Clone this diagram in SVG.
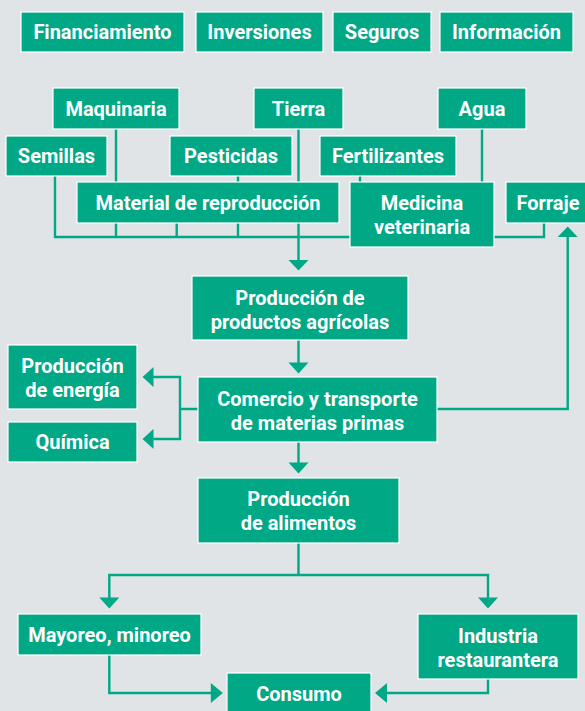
<svg xmlns="http://www.w3.org/2000/svg" width="585" height="711" viewBox="0 0 585 711">
<style>
.b{fill:#00a886;stroke:#ffffff;stroke-width:1.2}
.t{font-family:Roboto,"Liberation Sans",sans-serif;font-weight:bold;font-size:20px;fill:#ffffff;text-anchor:middle}
.l{fill:none;stroke:#00a886;stroke-width:2.4}
.a{fill:#00a886}
</style>
<rect width="585" height="711" fill="#e1e4e7"/>
<g id="connectors">
<path class="l" d="M55 176V237H544V222.5"/>
<path class="l" d="M116 129V237M176.7 223V237M238 176V237M360 176V237M482 129V237"/>
<path class="l" d="M298.5 129V261"/>
<polygon class="a" points="288.5,260 308.5,260 298.5,270.5"/>
<path class="l" d="M298.5 340V363"/>
<polygon class="a" points="288.5,362.5 308.5,362.5 298.5,373.5"/>
<path class="l" d="M298.5 442V463"/>
<polygon class="a" points="288.5,462.5 308.5,462.5 298.5,473.5"/>
<path class="l" d="M437 409H567.7V236"/>
<polygon class="a" points="557.7,237 577.7,237 567.7,226.5"/>
<path class="l" d="M198 409H180M153 377H180V439H153"/>
<polygon class="a" points="153.5,367 153.5,387 142.5,377"/>
<polygon class="a" points="153.5,429 153.5,449 142.5,439"/>
<path class="l" d="M298.5 543V575M109.3 598V575H488V598"/>
<polygon class="a" points="99.3,597.5 119.3,597.5 109.3,608.5"/>
<polygon class="a" points="478,597.5 498,597.5 488,608.5"/>
<path class="l" d="M109.3 655V693H212M488 679V693H386"/>
<polygon class="a" points="210.8,683 210.8,703 222.8,693"/>
<polygon class="a" points="387,683 387,703 375,693"/>
</g>
<g id="financiamiento"><rect class="b" x="21" y="12" width="163" height="40"/><text class="t" x="102.5" y="39">Financiamiento</text></g>
<g id="inversiones"><rect class="b" x="196" y="12" width="127" height="40"/><text class="t" x="259.5" y="39">Inversiones</text></g>
<g id="seguros"><rect class="b" x="333" y="12" width="98" height="40"/><text class="t" x="382" y="39">Seguros</text></g>
<g id="informacion"><rect class="b" x="440" y="12" width="133" height="40"/><text class="t" x="506.5" y="39">Información</text></g>
<g id="maquinaria"><rect class="b" x="53" y="88" width="126" height="41"/><text class="t" x="116" y="115.5">Maquinaria</text></g>
<g id="tierra"><rect class="b" x="254" y="88" width="89" height="41"/><text class="t" x="298.5" y="115.5">Tierra</text></g>
<g id="agua"><rect class="b" x="438" y="88" width="88" height="41"/><text class="t" x="482" y="115.5">Agua</text></g>
<g id="semillas"><rect class="b" x="6" y="136" width="101" height="40"/><text class="t" x="56.5" y="163">Semillas</text></g>
<g id="pesticidas"><rect class="b" x="170" y="136" width="122" height="40"/><text class="t" x="231" y="163">Pesticidas</text></g>
<g id="fertilizantes"><rect class="b" x="320" y="136" width="136" height="40"/><text class="t" x="388" y="163">Fertilizantes</text></g>
<g id="material"><rect class="b" x="77" y="182" width="262" height="41"/><text class="t" x="208" y="209.5">Material de reproducción</text></g>
<g id="medicina"><rect class="b" x="350" y="182" width="144" height="65"/><text class="t" x="422" y="210">Medicina</text><text class="t" x="422" y="234">veterinaria</text></g>
<g id="forraje"><rect class="b" x="506" y="182" width="84" height="41"/><text class="t" x="548" y="209.5">Forraje</text></g>
<g id="produccion-agricola"><rect class="b" x="192" y="276" width="216" height="64"/><text class="t" x="300" y="304.5">Producción de</text><text class="t" x="300" y="328.5">productos agrícolas</text></g>
<g id="energia"><rect class="b" x="8" y="345" width="129" height="64"/><text class="t" x="72.5" y="373">Producción</text><text class="t" x="72.5" y="397">de energía</text></g>
<g id="quimica"><rect class="b" x="8" y="422" width="129" height="40"/><text class="t" x="72.5" y="449">Química</text></g>
<g id="comercio"><rect class="b" x="198" y="377" width="239" height="65"/><text class="t" x="317.5" y="405.5">Comercio y transporte</text><text class="t" x="317.5" y="429.5">de materias primas</text></g>
<g id="alimentos"><rect class="b" x="198" y="478" width="201" height="65"/><text class="t" x="298.5" y="506">Producción</text><text class="t" x="298.5" y="530">de alimentos</text></g>
<g id="mayoreo"><rect class="b" x="18" y="614" width="183" height="41"/><text class="t" x="109.5" y="641.5">Mayoreo, minoreo</text></g>
<g id="industria"><rect class="b" x="418" y="614" width="160" height="65"/><text class="t" x="498" y="642.5">Industria</text><text class="t" x="498" y="666.5">restaurantera</text></g>
<g id="consumo"><rect class="b" x="227" y="673" width="144" height="45"/><text class="t" x="299" y="701">Consumo</text></g>
</svg>
